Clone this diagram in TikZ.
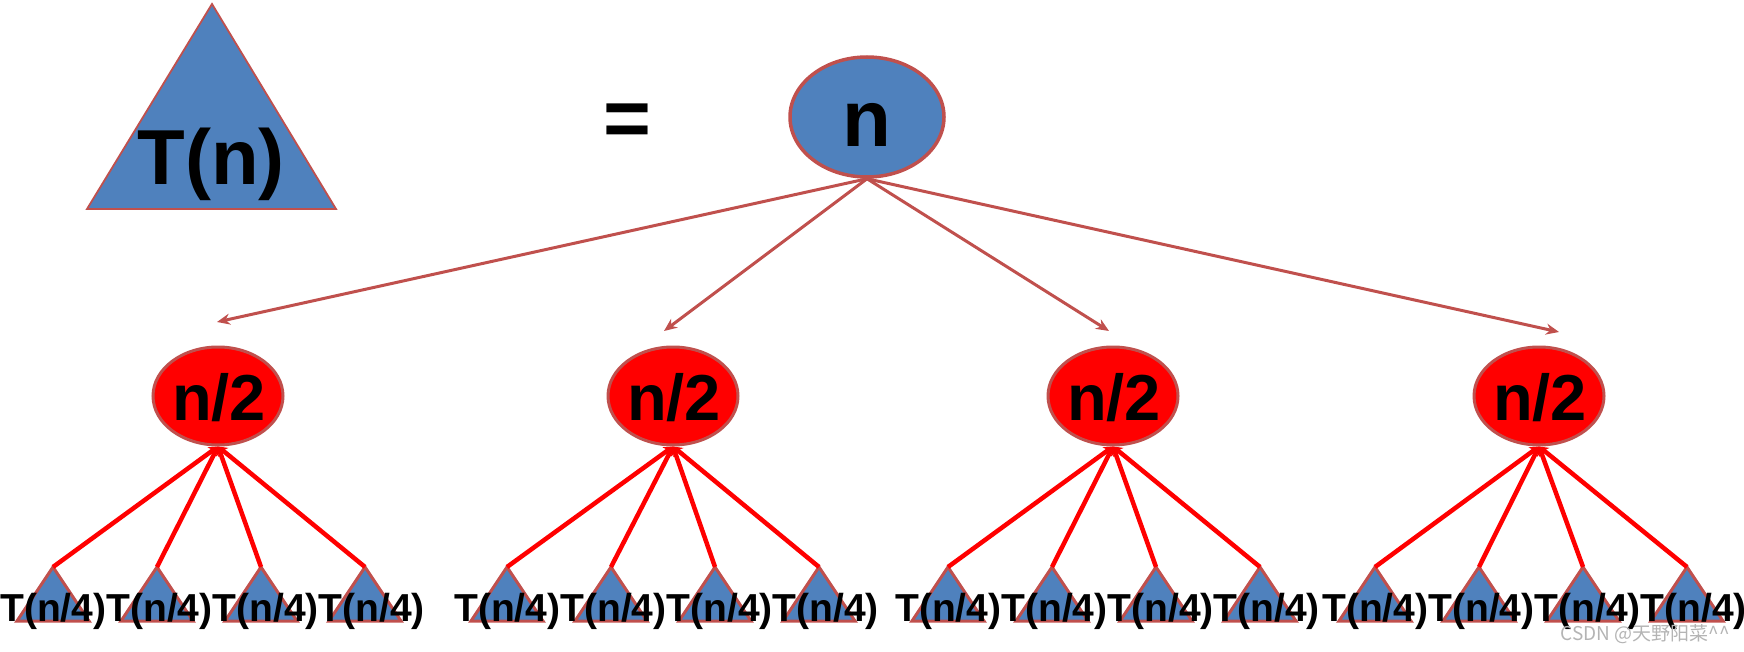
\documentclass[tikz,border=0pt]{standalone}
\usepackage{fontspec}
\setmainfont{Liberation Sans}
\newfontfamily\cjkwm{Noto Sans CJK SC}
\usetikzlibrary{arrows.meta,shapes.geometric}
\definecolor{tblue}{HTML}{4F81BD}
\definecolor{tborder}{HTML}{C0504D}
\definecolor{wmgray}{HTML}{B4B4B4}
\tikzset{
  topell/.style={draw=tborder,line width=3.5pt,fill=tblue,ellipse,minimum width=154pt,minimum height=120pt,inner sep=0pt},
  halfell/.style={draw=tborder,line width=3pt,fill=red,ellipse,minimum width=130pt,minimum height=98pt,inner sep=0pt},
  toparrow/.style={draw=tborder,line width=3pt,-{Stealth[length=13pt,width=11pt]}},
  redline/.style={draw=red,line width=4.5pt,-{Stealth[length=9pt,width=11pt]}},
  smalltri/.style={draw=tborder,line width=3pt,fill=tblue,line join=miter},
  lbl/.style={inner sep=0pt,anchor=base,font=\bfseries},
}
\begin{document}
\begin{tikzpicture}[x=1pt,y=-1pt]
\useasboundingbox (0,0) rectangle (1744,652);
% big triangle
\draw[draw=tborder,line width=1.8pt,fill=tblue] (212,4) -- (336,209) -- (87,209) -- cycle;
\node[lbl,font=\bfseries\fontsize{78}{78}\selectfont] (tn) at (211,185) {T(n)};
% equals
\node[inner sep=0pt,font=\bfseries\fontsize{82}{82}\selectfont] (eq) at (627,125) {=};
% top ellipse
\node[topell] (top) at (867,117) {};
\node[lbl,font=\bfseries\fontsize{80}{80}\selectfont] (topt) at (867,147) {n};
% half ellipses
\foreach \i/\x in {1/218,2/673,3/1113,4/1539}{
  \node[halfell] (h\i) at (\x,396) {};
  \node[lbl,font=\bfseries\fontsize{65}{65}\selectfont] (ht\i) at (\x+1,420) {n/2};
}
% top arrow tips
\coordinate (tip1) at (217,322);
\coordinate (tip2) at (664,331);
\coordinate (tip3) at (1109,331);
\coordinate (tip4) at (1559,332);
\foreach \i in {1,2,3,4}{
  \draw[toparrow] (top.south) -- (tip\i);
}
% leaf triangles
\foreach \g/\s in {1/0,2/454,3/895,4/1322}{
  \foreach \k in {0,1,2,3}{
    \pgfmathsetmacro{\ax}{\s+53+104*\k}
    \coordinate (a\g\k) at (\ax,567);
    \draw[smalltri] (\ax,567) -- (\ax+36,621) -- (\ax-36,621) -- cycle;
  }
}
\foreach \g in {1,2,3,4}{
  \foreach \k in {0,1,2,3}{
    \draw[redline] (a\g\k) -- (h\g.south);
  }
}
\foreach \g/\s in {1/0,2/454,3/895,4/1322}{
  \node[inner sep=0pt,anchor=base west,font=\bfseries\fontsize{39}{39}\selectfont] (leaf\g) at (\s,621) {T(n/4)T(n/4)T(n/4)T(n/4)};
}
% watermark
\node[inner sep=0pt,anchor=east,text=wmgray,font=\cjkwm\fontsize{19}{19}\selectfont] (wm) at (1730,634) {CSDN @天野阳菜\^{}\^{}};
\end{tikzpicture}
\end{document}
